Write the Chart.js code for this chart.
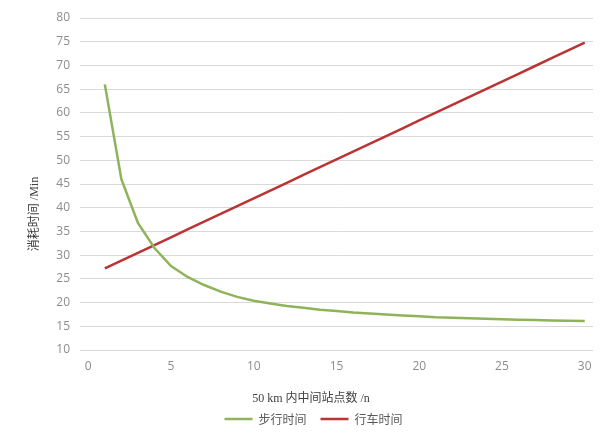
<!DOCTYPE html>
<html>
<head>
<meta charset="utf-8">
<script src="https://cdn.jsdelivr.net/npm/chart.js@4/dist/chart.umd.min.js"></script>
<style>
  body{ margin:0; background:#fff; }
  #wrap{ width:611px; height:435px; }
</style>
</head>
<body>
<div id="wrap"><canvas id="chart"></canvas></div>
<script>
// data
const stations = [1,2,3,4,5,6,7,8,9,10,11,12,13,14,15,16,17,18,19,20,21,22,23,24,25,26,27,28,29,30];
const walkTime = [66,46,36.8,31.5,27.7,25.4,23.7,22.3,21.2,20.4,19.8,19.3,18.9,18.5,18.2,17.9,17.7,17.5,17.3,17.1,16.9,16.8,16.7,16.6,16.5,16.4,16.3,16.2,16.15,16.1];
const driveTime = [27.2,28.84,30.48,32.12,33.77,35.41,37.05,38.69,40.33,41.97,43.61,45.26,46.9,48.54,50.18,51.82,53.46,55.1,56.75,58.39,60.03,61.67,63.31,64.95,66.59,68.24,69.88,71.52,73.16,74.8];
const xTicks = [0,5,10,15,20,25,30];
const seriesNames = ["步行时间","行车时间"];
const xTitle = "50 km 内中间站点数 /n";
const yTitle = "消耗时间 /Min";

const pts = arr => stations.map((n,i)=>({x:n, y:arr[i]}));

// axis titles drawn by hand so they sit where the original has them
const axisTitles = {
  id:"axisTitles",
  afterDraw(c){
    const ctx = c.ctx, a = c.chartArea;
    ctx.save();
    ctx.fillStyle = "#404040";
    ctx.font = "12px 'Liberation Serif', 'Noto Sans CJK SC', serif";
    ctx.textAlign = "center";
    ctx.textBaseline = "middle";
    ctx.fillText(xTitle, a.left + 231, a.bottom + 49);
    ctx.translate(35, a.top + 196);
    ctx.rotate(-Math.PI/2);
    ctx.fillText(yTitle, 0, 0);
    ctx.restore();
  }
};

const tickFont = { family:"'Open Sans', 'Liberation Sans', sans-serif", size:12 };

new Chart(document.getElementById("chart"),{
  type:"line",
  data:{
    datasets:[
      { label:seriesNames[0], data:pts(walkTime), borderColor:"#8fb35a", backgroundColor:"#8fb35a", borderWidth:2.5, pointRadius:0 },
      { label:seriesNames[1], data:pts(driveTime), borderColor:"#bb3434", backgroundColor:"#bb3434", borderWidth:2.5, pointRadius:0 }
    ]
  },
  options:{
    responsive:true,
    maintainAspectRatio:false,
    animation:false,
    // left padding pushes the legend right; y axis width makes up for it
    layout:{ padding:{ left:34, right:18, top:18, bottom:0 } },
    plugins:{
      tooltip:{ enabled:false },
      legend:{
        position:"bottom",
        labels:{ boxWidth:28, boxHeight:0, padding:14, color:"#595959",
          font:{ family:"'Noto Sans CJK SC', sans-serif", size:12 } }
      }
    },
    scales:{
      x:{
        type:"linear", min:-0.5, max:30.5,
        grid:{ display:false, drawTicks:false },
        border:{ display:false },
        afterBuildTicks: s => { s.ticks = xTicks.map(v=>({value:v})); },
        afterFit: s => { s.height = 49; },
        ticks:{ color:"#8c8c8c", font:tickFont, padding:9, maxRotation:0 }
      },
      y:{
        min:10, max:80,
        grid:{ color:"#d9d9d9", drawTicks:false },
        border:{ display:false },
        afterFit: s => { s.width = 46; },
        ticks:{ stepSize:5, color:"#8c8c8c", font:tickFont, padding:10 }
      }
    }
  },
  plugins:[axisTitles]
});
</script>
</body>
</html>
